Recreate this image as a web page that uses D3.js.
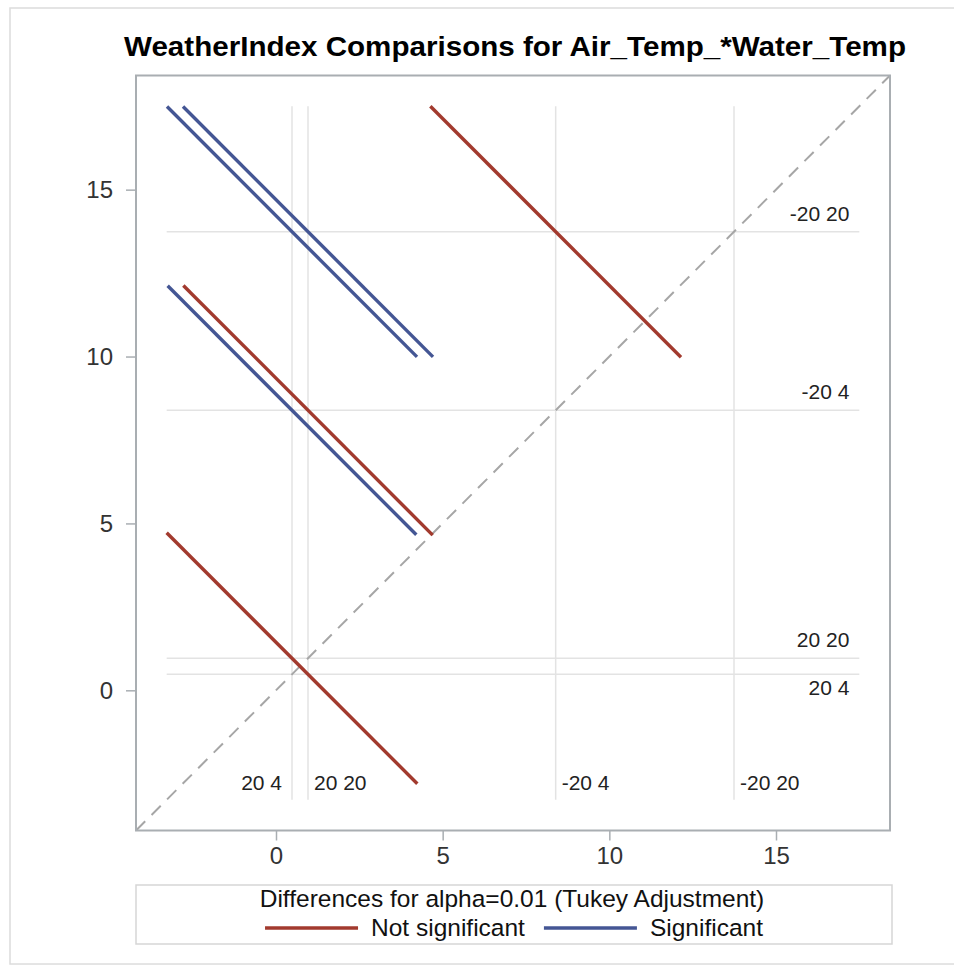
<!DOCTYPE html>
<html>
<head>
<meta charset="utf-8">
<script src="https://cdn.jsdelivr.net/npm/d3@7"></script>
<style>
  html, body { margin: 0; padding: 0; background: #fff; }
  svg { display: block; font-family: "Liberation Sans", Arial, sans-serif; }
</style>
</head>
<body>
<svg id="chart" width="954" height="966"></svg>
<script>
// LS-mean levels of Air_Temp_*Water_Temp and their estimates
const levels = ["20 4", "20 20", "-20 4", "-20 20"];
const lsmeans = [0.48, 0.96, 8.39, 13.74];

// Pairwise comparisons: level on the x axis, level on the y axis,
// half-length of the Tukey interval segment, and significance at alpha=0.01
const pairX = ["20 4", "20 4", "20 20", "20 4", "20 20", "-20 4"];
const pairY = ["20 20", "-20 4", "-20 4", "-20 20", "-20 20", "-20 20"];
const halfWidths = [3.76, 3.73, 3.74, 3.75, 3.75, 3.76];
const significant = [false, true, false, true, true, false];

const xTicks = [0, 5, 10, 15];
const yTicks = [0, 5, 10, 15];
const axisDomain = [-4.2, 18.42];

const titleText = "WeatherIndex Comparisons for Air_Temp_*Water_Temp";
const legendTitle = "Differences for alpha=0.01 (Tukey Adjustment)";
const legendLabels = ["Not significant", "Significant"];
const colors = { notsig: "#A23A2E", sig: "#445694" };

const svg = d3.select("#chart");
const frame = { left: 136, right: 890, top: 75.5, bottom: 830.5 };

const x = d3.scaleLinear().domain(axisDomain).range([frame.left, frame.right]);
const y = d3.scaleLinear().domain(axisDomain).range([frame.bottom, frame.top]);

const meanOf = lv => lsmeans[levels.indexOf(lv)];

// outer border of the graphic
svg.append("rect")
  .attr("x", 10).attr("y", 8).attr("width", 960).attr("height", 956)
  .attr("fill", "none").attr("stroke", "#dcdcdc").attr("stroke-width", 1.5);

// title
svg.append("text")
  .attr("x", 515).attr("y", 56)
  .attr("text-anchor", "middle")
  .attr("font-size", 27).attr("font-weight", "bold").attr("fill", "#000")
  .attr("textLength", 782).attr("lengthAdjust", "spacingAndGlyphs")
  .text(titleText);

// segments for each comparison
const segs = pairX.map((lx, i) => {
  const mx = meanOf(lx), my = meanOf(pairY[i]), h = halfWidths[i];
  return { x1: mx - h, y1: my + h, x2: mx + h, y2: my - h, sig: significant[i] };
});

// extent of the reference lines follows the segment endpoints
const allEnds = segs.flatMap(s => [s.x1, s.y1, s.x2, s.y2]);
const refMin = d3.min(allEnds), refMax = d3.max(allEnds);

const plot = svg.append("g");

// reference lines at the LS-means
const refColor = "#e3e3e3";
plot.selectAll("line.vref").data(lsmeans).join("line")
  .attr("class", "vref")
  .attr("x1", d => x(d)).attr("x2", d => x(d))
  .attr("y1", y(refMax)).attr("y2", y(refMin))
  .attr("stroke", refColor).attr("stroke-width", 1.5);
plot.selectAll("line.href").data(lsmeans).join("line")
  .attr("class", "href")
  .attr("y1", d => y(d)).attr("y2", d => y(d))
  .attr("x1", x(refMin)).attr("x2", x(refMax))
  .attr("stroke", refColor).attr("stroke-width", 1.5);

// labels on the reference lines; a label moves to the other side when
// a neighbouring line is too close
const refFont = 21;
levels.forEach((lv, i) => {
  const m = lsmeans[i];
  const px = x(m);
  const crowdedRight = lsmeans.some(o => o !== m && x(o) > px && x(o) - px < 25);
  plot.append("text")
    .attr("x", crowdedRight ? px - 10 : px + 6)
    .attr("y", y(refMin) - 10)
    .attr("text-anchor", crowdedRight ? "end" : "start")
    .attr("font-size", refFont).attr("fill", "#222")
    .text(lv);
  const py = y(m);
  const crowdedAbove = lsmeans.some(o => o !== m && y(o) < py && py - y(o) < 25);
  plot.append("text")
    .attr("x", x(refMax) - 10)
    .attr("y", crowdedAbove ? py + 21 : py - 11)
    .attr("text-anchor", "end")
    .attr("font-size", refFont).attr("fill", "#222")
    .text(lv);
});

// diagonal reference y = x
plot.append("line")
  .attr("x1", x(axisDomain[0])).attr("y1", y(axisDomain[0]))
  .attr("x2", x(axisDomain[1])).attr("y2", y(axisDomain[1]))
  .attr("stroke", "#a6a6a6").attr("stroke-width", 2)
  .attr("stroke-dasharray", "13,9");

// comparison segments
plot.selectAll("line.seg").data(segs).join("line")
  .attr("class", "seg")
  .attr("x1", d => x(d.x1)).attr("y1", d => y(d.y1))
  .attr("x2", d => x(d.x2)).attr("y2", d => y(d.y2))
  .attr("stroke", d => d.sig ? colors.sig : colors.notsig)
  .attr("stroke-width", 3.4);

// frame
svg.append("rect")
  .attr("x", frame.left).attr("y", frame.top)
  .attr("width", frame.right - frame.left).attr("height", frame.bottom - frame.top)
  .attr("fill", "none").attr("stroke", "#a9aeb2").attr("stroke-width", 2);

// axes
const axisColor = "#a9aeb2";
const xAxis = svg.append("g")
  .attr("transform", `translate(0,${frame.bottom})`)
  .call(d3.axisBottom(x).tickValues(xTicks).tickSize(10).tickPadding(6).tickFormat(d3.format("d")));
const yAxis = svg.append("g")
  .attr("transform", `translate(${frame.left},0)`)
  .call(d3.axisLeft(y).tickValues(yTicks).tickSize(10).tickPadding(13).tickFormat(d3.format("d")));
[xAxis, yAxis].forEach(g => {
  g.select(".domain").remove();
  g.selectAll(".tick line").attr("stroke", axisColor).attr("stroke-width", 1.5);
  g.selectAll(".tick text")
    .attr("font-family", "Liberation Sans, Arial, sans-serif")
    .attr("font-size", 24).attr("fill", "#333");
});

// legend
const lg = { left: 136, right: 892, top: 885, bottom: 944 };
svg.append("rect")
  .attr("x", lg.left).attr("y", lg.top)
  .attr("width", lg.right - lg.left).attr("height", lg.bottom - lg.top)
  .attr("fill", "none").attr("stroke", "#d6d6d6").attr("stroke-width", 1.5);
const cx = (lg.left + lg.right) / 2;
const legendFont = 24.5;
svg.append("text")
  .attr("x", cx - 2).attr("y", lg.top + 22)
  .attr("text-anchor", "middle").attr("font-size", legendFont).attr("fill", "#111")
  .text(legendTitle);

const items = svg.append("g");
const swatchW = 93, gapText = 13, gapItem = 19;
let cursor = 0;
legendLabels.forEach((lab, i) => {
  const g = items.append("g").attr("transform", `translate(${cursor},0)`);
  g.append("line")
    .attr("x1", 0).attr("x2", swatchW).attr("y1", 0).attr("y2", 0)
    .attr("stroke", i === 0 ? colors.notsig : colors.sig).attr("stroke-width", 3.5);
  const t = g.append("text")
    .attr("x", swatchW + gapText).attr("y", 8)
    .attr("font-size", legendFont).attr("fill", "#111")
    .text(lab);
  cursor += swatchW + gapText + t.node().getComputedTextLength() + gapItem;
});
const totalW = cursor - gapItem;
items.attr("transform", `translate(${cx - totalW / 2},${lg.top + 43})`);
</script>
</body>
</html>
